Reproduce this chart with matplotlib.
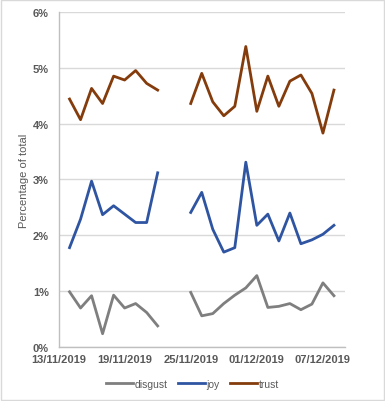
import numpy as np
import pandas as pd
import matplotlib
matplotlib.use("Agg")
import matplotlib.pyplot as plt
import matplotlib.dates as mdates
from matplotlib.patches import Rectangle

nan = np.nan
dates = pd.date_range("2019-11-14", "2019-12-08", freq="D")
disgust = [0.99, 0.70, 0.92, 0.24, 0.93, 0.70, 0.78, 0.62, 0.38, nan, nan,
           0.98, 0.56, 0.60, 0.78, 0.93, 1.06, 1.28, 0.71, 0.73, 0.78, 0.67, 0.77, 1.15, 0.92]
joy = [1.78, 2.29, 2.97, 2.37, 2.53, 2.38, 2.23, 2.23, 3.12, nan, nan,
       2.41, 2.77, 2.11, 1.70, 1.78, 3.31, 2.18, 2.38, 1.90, 2.40, 1.85, 1.92, 2.02, 2.18]
trust = [4.44, 4.07, 4.63, 4.36, 4.85, 4.78, 4.95, 4.72, 4.60, nan, nan,
         4.36, 4.90, 4.39, 4.14, 4.31, 5.38, 4.22, 4.85, 4.31, 4.76, 4.87, 4.54, 3.83, 4.60]
series_names = ["disgust", "joy", "trust"]
colors = ["#7f7f7f", "#2f55a2", "#843c0c"]
yticks = [0, 1, 2, 3, 4, 5, 6]

plt.rcParams["font.family"] = ["Liberation Sans", "DejaVu Sans"]

fig = plt.figure(figsize=(3.85, 4.02), dpi=100)
ax = fig.add_axes([0.152, 0.134, 0.744, 0.834])

for name, vals, c in zip(series_names, [disgust, joy, trust], colors):
    ax.plot(dates, vals, color=c, lw=2.0, label=name)

ax.set_ylim(0, 6)
ax.set_yticks(yticks)
ax.set_yticklabels([f"{t}%" for t in yticks])
ax.set_xlim(pd.Timestamp("2019-11-13"), pd.Timestamp("2019-12-09"))
ax.set_xticks(pd.date_range("2019-11-13", "2019-12-09", freq="6D"))
ax.xaxis.set_major_formatter(mdates.DateFormatter("%d/%m/%Y"))

ax.grid(axis="y", color="#d9d9d9", lw=1.0)
ax.set_axisbelow(True)
for s in ["top", "right"]:
    ax.spines[s].set_visible(False)
for s in ["left", "bottom"]:
    ax.spines[s].set_color("#bfbfbf")
    ax.spines[s].set_linewidth(1.0)
ax.tick_params(length=0, labelsize=8, labelcolor="#595959")
for lbl in ax.get_xticklabels() + ax.get_yticklabels():
    lbl.set_fontweight("bold")
ax.tick_params(axis="y", pad=7)
ax.tick_params(axis="x", pad=5)
ax.set_ylabel("Percentage of total", fontsize=8, color="#595959", labelpad=3)

fig.legend(loc="center", bbox_to_anchor=(0.5, 0.042), ncol=3, frameon=False,
           fontsize=7.5, labelcolor="#595959", handlelength=2.6, handletextpad=0.15,
           columnspacing=1.0)

fig.patches.append(Rectangle((0.002, 0.002), 0.996, 0.996, transform=fig.transFigure,
                             fill=False, edgecolor="#d9d9d9", lw=1.0))

fig.savefig("out.png", dpi=100)
